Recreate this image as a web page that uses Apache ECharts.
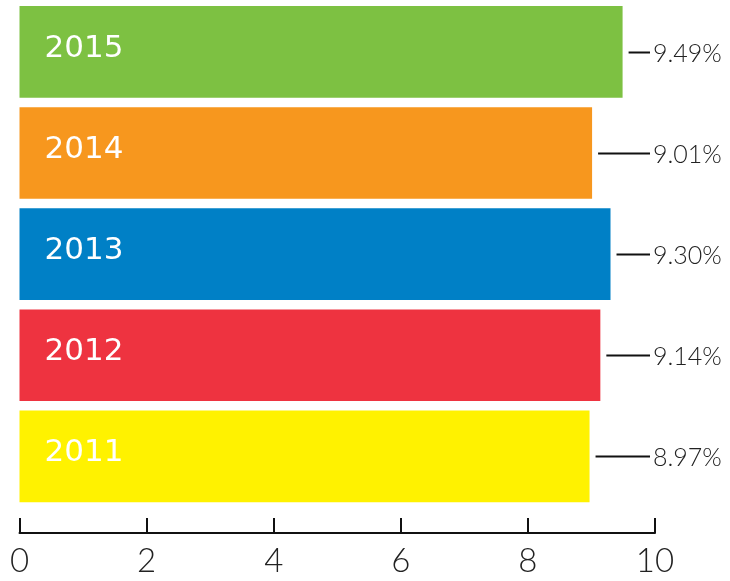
<!DOCTYPE html>
<html>
<head>
<meta charset="utf-8">
<style>
  html, body { margin: 0; padding: 0; background: #fff; }
  #chart { width: 730px; height: 581px; }
</style>
<script src="https://cdn.jsdelivr.net/npm/echarts@6/dist/echarts.min.js"></script>
</head>
<body>
<div id="chart"></div>
<script>
// 数据
var years = ['2015', '2014', '2013', '2012', '2011'];
var rates = [9.49, 9.01, 9.30, 9.14, 8.97];
var barColors = ['#7DC142', '#F7971E', '#0080C6', '#EE3340', '#FFF200'];
var xTicks = [0, 2, 4, 6, 8, 10];

var chart = echarts.init(document.getElementById('chart'));

var option = {
    animation: false,
    grid: {
        left: 19.5,
        right: 75,
        top: 1.25,
        bottom: 74,
        containLabel: false
    },
    xAxis: {
        type: 'value',
        min: xTicks[0],
        max: xTicks[xTicks.length - 1],
        interval: 2,
        offset: 26,
        axisLine: { show: true, lineStyle: { color: '#111', width: 2 } },
        axisTick: { show: true, inside: true, length: 15, lineStyle: { color: '#111', width: 2 } },
        splitLine: { show: false },
        axisLabel: {
            margin: 12,
            color: '#222',
            fontSize: 33,
            fontWeight: 300,
            fontFamily: 'Lato, "DejaVu Sans", sans-serif'
        }
    },
    yAxis: {
        type: 'category',
        inverse: true,
        data: years,
        show: false
    },
    series: [
        {
            name: 'bar',
            type: 'bar',
            barCategoryGap: '9.4%',
            data: rates.map(function (v, i) {
                return { value: v, itemStyle: { color: barColors[i] } };
            }),
            label: {
                show: true,
                position: 'insideLeft',
                distance: 25,
                offset: [0, -3],
                color: '#fff',
                fontSize: 31,
                fontFamily: '"DejaVu Sans", sans-serif',
                formatter: function (p) { return years[p.dataIndex]; }
            }
        },
        {
            // 引线 + 百分比
            name: 'rate',
            type: 'custom',
            data: rates.map(function (v, i) { return [v, i]; }),
            renderItem: function (params, api) {
                var start = api.coord([api.value(0), api.value(1)]);
                var end = api.coord([10, api.value(1)]);
                var y = Math.round(start[1]) + 0.5;
                return {
                    type: 'group',
                    children: [
                        {
                            type: 'line',
                            shape: { x1: start[0] + 6, y1: y, x2: end[0] - 5, y2: y },
                            style: { stroke: '#111', lineWidth: 2 }
                        },
                        {
                            type: 'text',
                            x: end[0] - 2,
                            y: y + 1,
                            style: {
                                text: rates[params.dataIndex].toFixed(2) + '%',
                                fill: '#222',
                                fontSize: 25,
                                fontWeight: 300,
                                fontFamily: 'Lato, "DejaVu Sans", sans-serif',
                                align: 'left',
                                verticalAlign: 'middle'
                            }
                        }
                    ]
                };
            }
        }
    ]
};

chart.setOption(option);
</script>
</body>
</html>
